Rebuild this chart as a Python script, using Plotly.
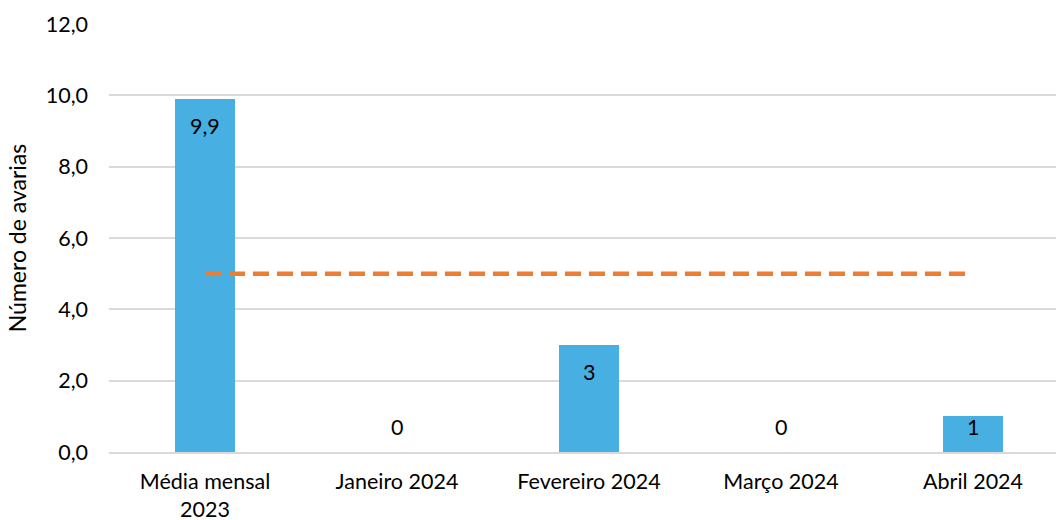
import plotly.graph_objects as go

# Failures per month, compared with the 2023 monthly average and the target line
categories = ["Média mensal<br>2023", "Janeiro 2024", "Fevereiro 2024", "Março 2024", "Abril 2024"]
avarias = [9.9, 0, 3, 0, 1]
value_labels = ["9,9", "0", "3", "0", "1"]
target = [5, 5, 5, 5, 5]

FONT = "Lato"
FS = 21.5
BAR_COLOR = "#47AFE1"
LINE_COLOR = "#ED7D31"
GRID = "#D9D9D9"

fig = go.Figure()
fig.add_trace(go.Bar(
    x=categories, y=avarias, width=0.3125,
    marker=dict(color=BAR_COLOR, line=dict(width=0)),
    showlegend=False, hoverinfo="skip",
))
fig.add_trace(go.Scatter(
    x=categories, y=target, mode="lines",
    line=dict(color=LINE_COLOR, width=4.5, dash="16px,8px"),
    showlegend=False, hoverinfo="skip",
))

# value labels sit just inside the top of each bar, never lower than a small offset above the axis
px_per_unit = 428 / 12
for cat, v, lab in zip(categories, avarias, value_labels):
    y_lab = max(v - 27 / px_per_unit, 25 / px_per_unit)
    fig.add_annotation(
        x=cat, y=y_lab, text=lab, showarrow=False,
        font=dict(family=FONT, size=FS, color="#000000"),
        xanchor="center", yanchor="middle",
    )

fig.update_layout(
    width=1056, height=520,
    margin=dict(l=109, r=0, t=24, b=68),
    paper_bgcolor="white", plot_bgcolor="white",
    font=dict(family=FONT, size=FS, color="#000000"),
    separators=",.",
    bargap=0,
)
fig.update_xaxes(
    type="category",
    range=[-0.5, 4.432],
    showgrid=False, automargin=False,
    showline=True, linecolor=GRID, linewidth=1.5,
    ticks="", ticklabelstandoff=9,
    tickfont=dict(family=FONT, size=FS, color="#000000"),
)
fig.update_yaxes(
    range=[0, 12], dtick=2, tickformat=".1f",
    showgrid=True, gridcolor=GRID, gridwidth=1.5,
    zeroline=False, showline=False, automargin=False,
    ticks="", ticklabelstandoff=20,
    tickfont=dict(family=FONT, size=FS, color="#000000"),
    title=dict(text="Número de avarias", font=dict(family=FONT, size=23, color="#000000"), standoff=12),
)

fig.write_html("out.html")
